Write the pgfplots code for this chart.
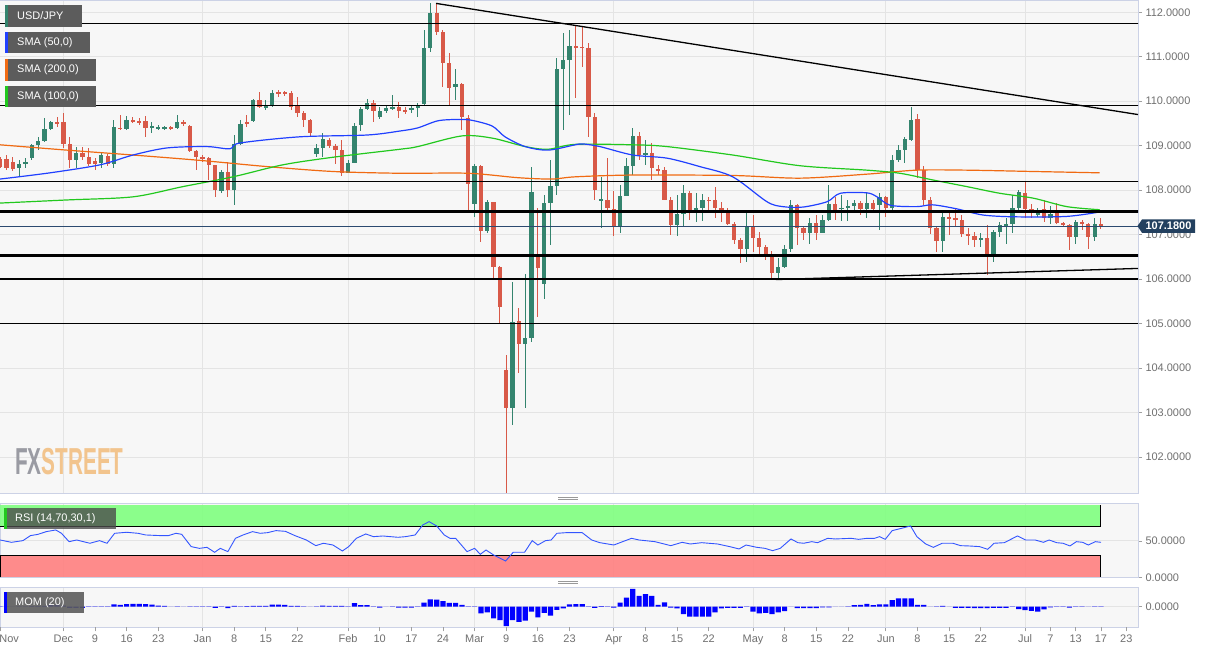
\documentclass[border=0pt]{standalone}
\usepackage{fontspec}
\setmainfont{Liberation Sans}
\usepackage{pgfplots}
\usepackage{pgfplotstable}
\pgfplotsset{compat=1.18}

\definecolor{panelbg}{HTML}{F7F7F7}
\definecolor{gridcol}{HTML}{E4E4E4}
\definecolor{bordercol}{HTML}{CCD2E6}
\definecolor{labelgray}{HTML}{707070}
\definecolor{tickgray}{HTML}{A0A0A0}
\definecolor{bull}{RGB}{52,132,110}
\definecolor{bear}{RGB}{216,89,72}
\definecolor{sma50}{HTML}{2040FF}
\definecolor{sma100}{HTML}{22C81E}
\definecolor{sma200}{HTML}{F06A12}
\definecolor{priceline}{HTML}{2C4A70}
\definecolor{tagnavy}{HTML}{23405F}
\definecolor{rsigreen}{HTML}{80FF80}
\definecolor{rsired}{HTML}{FF8080}
\definecolor{rsiblue}{HTML}{3355FF}
\definecolor{momblue}{HTML}{0000FF}
\definecolor{boxgray}{HTML}{5C5C5C}
\definecolor{fxgray}{HTML}{9A9BA3}
\definecolor{fxorange}{HTML}{F2C48D}

% daily candles, index 0 = 18 Nov 2019
\pgfplotstableread{
i o h l c
3 108.49 108.68 108.30 108.59
4 108.59 108.72 108.49 108.64
5 108.73 109.05 108.68 109.01
6 109.01 109.20 108.90 109.11
7 109.11 109.62 109.09 109.37
8 109.37 109.56 109.35 109.53
12 108.68 108.98 108.49 108.84
16 108.60 108.87 108.49 108.78
18 108.59 109.58 108.49 109.41
20 109.37 109.67 109.35 109.59
24 109.41 109.54 109.28 109.44
25 109.39 109.47 109.35 109.41
26 109.40 109.45 109.36 109.42
28 109.39 109.69 109.37 109.54
35 107.98 108.45 107.93 108.42
37 108.00 109.24 107.67 109.05
38 109.05 109.58 109.01 109.50
40 109.56 110.06 109.54 110.03
42 109.84 110.03 109.80 109.92
43 109.90 110.25 109.88 110.18
50 108.81 109.05 108.75 108.94
51 108.94 109.28 108.75 109.14
55 108.39 108.68 108.38 108.62
56 108.62 109.50 108.60 109.44
57 109.47 109.88 109.32 109.82
58 109.82 110.04 109.80 109.97
60 109.64 109.88 109.60 109.77
61 109.78 109.89 109.73 109.84
62 109.84 110.14 109.80 109.86
65 109.80 109.89 109.73 109.84
66 109.85 109.95 109.65 109.91
67 109.94 111.60 109.89 111.20
68 111.20 112.22 111.11 111.98
72 110.31 110.72 110.03 110.39
75 107.69 108.60 107.40 108.54
77 107.09 107.78 107.03 107.73
81 103.10 105.94 102.72 105.04
83 104.54 106.12 103.10 104.68
84 104.68 108.53 104.59 107.96
86 105.89 107.89 105.55 107.71
87 107.71 108.68 106.77 108.09
88 108.09 110.97 107.89 110.72
89 110.72 111.53 109.35 110.93
90 110.93 111.60 109.69 111.24
95 107.78 108.30 107.14 107.80
98 107.19 108.12 107.03 107.88
99 107.88 108.72 107.86 108.54
100 108.54 109.39 108.34 109.22
102 108.79 109.13 108.57 108.84
107 107.22 107.89 106.96 107.46
108 107.46 108.12 107.18 107.93
110 107.55 107.93 107.29 107.61
111 107.61 107.91 107.31 107.79
118 106.67 107.48 106.39 107.18
123 106.13 106.47 106.02 106.28
124 106.28 106.77 106.24 106.67
125 106.67 107.78 106.62 107.67
128 107.04 107.37 106.79 107.27
130 107.04 107.44 107.03 107.34
131 107.34 108.12 107.31 107.70
133 107.57 107.89 107.31 107.61
134 107.61 107.79 107.31 107.64
135 107.64 107.79 107.52 107.72
137 107.57 107.94 107.37 107.72
139 107.67 107.93 107.10 107.84
141 107.59 108.79 107.55 108.68
142 108.68 109.02 108.64 108.90
143 108.90 109.20 108.62 109.14
144 109.14 109.88 109.11 109.59
149 106.86 107.48 106.60 107.40
155 106.88 107.03 106.73 106.92
157 106.57 107.10 106.39 107.07
158 107.07 107.29 106.95 107.22
159 107.20 107.37 106.80 107.23
160 107.23 107.89 107.03 107.59
161 107.59 108.00 107.55 107.97
164 107.45 107.59 107.40 107.48
166 107.37 107.64 107.25 107.47
170 106.95 107.33 106.80 107.29
173 106.95 107.37 106.86 107.25
}\bulltab

\pgfplotstableread{
i o h l c
0 108.70 108.75 108.49 108.53
1 108.70 108.79 108.45 108.49
2 108.64 108.75 108.44 108.47
9 109.53 109.65 109.43 109.50
10 109.53 109.73 108.94 109.04
11 109.04 109.20 108.49 108.68
13 108.84 108.98 108.68 108.75
14 108.74 108.94 108.54 108.60
15 108.66 108.72 108.45 108.60
17 108.78 108.82 108.54 108.59
19 109.41 109.69 109.35 109.37
21 109.59 109.65 109.50 109.54
22 109.56 109.62 109.47 109.53
23 109.56 109.67 109.20 109.39
27 109.41 109.45 109.36 109.38
29 109.54 109.58 109.44 109.48
30 109.44 109.46 108.87 108.89
31 108.89 108.90 108.45 108.75
32 108.75 108.79 108.64 108.72
33 108.72 108.75 108.23 108.56
34 108.56 108.57 107.85 108.00
36 108.42 108.64 107.85 108.00
39 109.53 109.69 109.43 109.50
41 110.03 110.21 109.84 109.88
44 110.20 110.25 110.10 110.17
45 110.20 110.22 110.12 110.18
46 110.18 110.22 109.80 109.87
47 109.89 110.10 109.65 109.74
48 109.74 109.77 109.43 109.58
49 109.58 109.59 109.20 109.29
52 109.14 109.17 108.94 108.99
53 108.99 109.05 108.60 108.90
54 108.90 109.13 108.32 108.38
59 109.97 110.03 109.54 109.77
63 109.86 109.99 109.62 109.78
64 109.79 109.88 109.71 109.77
69 111.98 112.19 111.49 111.56
70 111.55 111.60 110.33 110.87
71 110.87 111.08 109.92 110.30
73 110.39 110.42 109.35 109.64
74 109.62 109.69 107.55 108.15
76 108.54 108.57 106.84 107.09
78 107.73 107.74 105.98 106.28
79 106.28 106.30 105.01 105.38
80 103.96 104.30 101.19 103.10
82 105.06 105.35 103.88 104.54
85 106.55 107.59 105.15 106.24
91 111.24 111.71 110.07 111.21
92 111.22 111.68 110.78 111.20
93 111.20 111.30 109.20 109.64
94 109.64 109.73 107.78 108.00
96 107.79 108.72 107.52 107.59
97 107.57 107.97 106.96 107.19
101 109.22 109.30 108.68 108.79
103 108.83 109.07 108.23 108.49
104 108.48 108.57 108.34 108.44
105 108.45 108.53 107.78 107.79
106 107.79 107.85 106.99 107.22
109 107.93 107.97 107.32 107.48
112 107.79 107.85 107.48 107.76
113 107.78 108.06 107.37 107.61
114 107.61 107.74 107.29 107.52
115 107.52 107.59 107.22 107.24
116 107.24 107.29 106.80 106.88
117 106.88 106.92 106.37 106.67
119 107.18 107.44 106.62 106.92
120 106.92 107.07 106.54 106.73
121 106.73 106.77 106.43 106.57
122 106.57 106.64 106.02 106.13
126 107.67 107.70 106.77 107.14
127 107.14 107.19 106.88 107.04
129 107.27 107.44 106.88 107.04
132 107.70 107.85 107.33 107.52
136 107.71 107.75 107.45 107.57
138 107.72 107.78 107.48 107.57
140 107.84 107.87 107.40 107.59
145 109.59 109.71 108.27 108.45
146 108.45 108.54 107.67 107.79
147 107.79 107.85 107.01 107.14
148 107.14 107.18 106.60 106.86
150 107.40 107.55 106.99 107.37
151 107.37 107.59 107.18 107.33
152 107.33 107.44 106.95 107.02
153 107.01 107.14 106.77 106.97
154 106.97 107.07 106.73 106.88
156 106.92 107.22 106.09 106.57
162 107.93 108.19 107.37 107.57
163 107.57 107.70 107.37 107.48
165 107.57 107.78 107.29 107.37
167 107.48 107.72 107.24 107.27
168 107.27 107.29 107.19 107.22
169 107.22 107.25 106.66 106.95
171 107.29 107.33 107.10 107.25
172 107.24 107.27 106.67 106.95
174 107.25 107.37 107.12 107.19
}\beartab

\pgfplotsset{
  panel/.style={
    anchor=south west, scale only axis, width=1138bp,
    xmin=-0.016, xmax=179.85,
    axis background/.style={fill=panelbg},
    axis line style={draw=bordercol, line width=1bp},
    xtick={10,32,55,75,97,119,140,162},
    grid=major, major grid style={draw=gridcol, line width=0.9bp},
    ytick pos=right, yticklabel pos=right,
    tick align=outside, major tick length=4bp,
    ytick style={draw=tickgray, line width=0.8bp},
    tick label style={font=\fontsize{11}{13}\selectfont, text=labelgray},
    /pgf/number format/fixed, /pgf/number format/fixed zerofill,
    /pgf/number format/precision=4, /pgf/number format/assume math mode=true,
  },
  wick/.style={draw=none, mark=none, forget plot,
    error bars/.cd, y dir=both, y explicit, error mark=none,
    error bar style={line width=1bp, draw=#1}},
  body/.style={draw=none, mark=none, forget plot,
    error bars/.cd, y dir=both, y explicit, error mark=none,
    error bar style={line width=4.3bp, draw=#1}},
}

\begin{document}
\begin{tikzpicture}[x=1bp,y=1bp]
\fill[white] (0,0) rectangle (1214,653);

% price panel
\begin{axis}[panel, at={(0bp,159bp)}, height=493bp,
  ymin=101.168, ymax=112.254,
  ytick={102,103,104,105,106,107,108,109,110,111,112},
  xticklabels={}, xtick style={draw=none}]
\addplot[wick=bull] table[x=i, y expr={(\thisrow{h}+\thisrow{l})/2}, y error expr={(\thisrow{h}-\thisrow{l})/2}] {\bulltab};
\addplot[wick=bear] table[x=i, y expr={(\thisrow{h}+\thisrow{l})/2}, y error expr={(\thisrow{h}-\thisrow{l})/2}] {\beartab};
\addplot[body=bull] table[x=i, y expr={(\thisrow{o}+\thisrow{c})/2}, y error expr={max(abs(\thisrow{c}-\thisrow{o})/2,0.016)}] {\bulltab};
\addplot[body=bear] table[x=i, y expr={(\thisrow{o}+\thisrow{c})/2}, y error expr={max(abs(\thisrow{c}-\thisrow{o})/2,0.016)}] {\beartab};

% SMA 200
\addplot[sma200, line width=1.2bp, smooth] coordinates {
(0,109.02) (10.6,108.90) (21,108.79) (31.6,108.67) (42.2,108.53) (52.6,108.42)
(63.2,108.38) (74,108.38) (81.9,108.28) (87.2,108.25) (90.9,108.30) (100,108.34)
(115.8,108.33) (126.4,108.27) (137,108.36) (144.9,108.45) (152.8,108.45)
(163.3,108.42) (173.8,108.39)};
% SMA 100
\addplot[sma100, line width=1.2bp, smooth] coordinates {
(0,107.71) (10.6,107.78) (21,107.85) (28.9,108.08) (36.8,108.30) (44.7,108.57)
(52.6,108.74) (63.2,108.92) (66,108.98) (73,109.22) (77.8,109.17) (83,108.98)
(86.6,108.92) (90.9,109.03) (100,109.02) (105.4,108.98) (115.8,108.79)
(126.4,108.55) (137,108.45) (142.2,108.38) (147.4,108.23) (152.8,108.08)
(158,107.93) (163.3,107.82) (168.6,107.63) (173.8,107.56)};
% SMA 50
\addplot[sma50, line width=1.2bp, smooth] coordinates {
(0,108.25) (7.9,108.39) (15.8,108.57) (21,108.79) (26.4,108.95) (32.7,108.98)
(36.3,108.93) (37.9,109.06) (47.4,109.20) (58,109.24) (63.2,109.33) (66,109.40)
(69.2,109.56) (72.4,109.59) (74.6,109.57) (77.8,109.44) (79.8,109.20) (83,108.98)
(86.6,108.90) (90.9,109.02) (92.1,109.04) (94.8,108.98) (100,108.79)
(105.4,108.72) (110.6,108.53) (115.8,108.30) (121.2,107.74) (123.7,107.63)
(126.9,107.62) (130.7,107.74) (132.8,107.93) (137,107.94) (138.6,107.85)
(140.7,107.66) (144.9,107.63) (147.4,107.67) (151.2,107.58) (155.4,107.44)
(160.7,107.40) (168.6,107.41) (173.8,107.51)};

% support and resistance levels
\addplot[black, line width=1.3bp] coordinates {(-1,111.75) (181,111.75)};
\addplot[black, line width=1.3bp] coordinates {(-1,109.91) (181,109.91)};
\addplot[black, line width=1.3bp] coordinates {(-1,108.19) (181,108.19)};
\addplot[black, line width=3bp] coordinates {(-1,107.53) (181,107.53)};
\addplot[priceline, line width=1bp] coordinates {(-1,107.18) (181,107.18)};
\addplot[black, line width=3bp] coordinates {(-1,106.54) (181,106.54)};
\addplot[black, line width=1.3bp] coordinates {(-1,106.00) (181,106.00)};
\addplot[black, line width=1.3bp] coordinates {(-1,105.00) (181,105.00)};
% trend lines
\addplot[black, line width=1.3bp] coordinates {(68.9,112.20) (179.85,109.70)};
\addplot[black, line width=1.3bp] coordinates {(122.6,105.99) (179.85,106.24)};
\end{axis}

% RSI panel
\begin{axis}[panel, at={(0bp,75.7bp)}, height=73.3bp,
  ymin=0, ymax=100.8, ytick={0,50},
  xticklabels={}, xtick style={draw=none}]
\fill[rsigreen, fill opacity=0.9] (axis cs:-0.016,70) rectangle (axis cs:173.9,98.8);
\draw[black, line width=0.8bp] (axis cs:-0.016,70) -- (axis cs:173.9,70) -- (axis cs:173.9,98.8);
\fill[rsired, fill opacity=0.9] (axis cs:0.1,0) rectangle (axis cs:173.9,30);
\draw[black, line width=0.8bp] (axis cs:0.1,0) -- (axis cs:0.1,30) -- (axis cs:173.9,30) -- (axis cs:173.9,0);
\addplot[rsiblue, line width=0.9bp] coordinates {
(0,51.3) (1.8,48.1) (3.6,50.4) (4.8,57.3) (6.0,59.1) (7.3,62.8) (8.8,65.1)
(9.7,60.5) (10.9,49.0) (12.1,51.3) (14.2,46.8) (15.7,50.4) (16.9,46.8)
(18.1,60.5) (20.0,61.9) (21.8,60.5) (23.0,58.2) (25.4,57.3) (26.6,57.3)
(27.8,60.5) (28.7,59.1) (30.2,42.2) (31.5,39.8) (32.7,41.2) (33.9,34.4)
(34.8,39.8) (36.0,35.3) (37.2,53.6) (38.4,58.2) (39.9,62.8) (41.1,60.5)
(42.3,61.4) (43.6,64.2) (45.1,63.2) (46.6,57.3) (48.4,51.3) (49.9,43.5)
(51.1,46.8) (52.6,44.4) (54.1,36.2) (55.1,42.2) (56.3,53.6) (57.8,59.6)
(59.0,55.9) (60.5,56.8) (62.9,55.0) (64.1,55.9) (65.6,58.2) (66.8,71.9)
(67.8,76.5) (69.0,70.6) (70.2,58.2) (71.1,53.6) (72.0,53.6) (73.8,35.3)
(75.0,39.8) (75.9,31.6) (76.8,37.5) (78.0,30.7) (79.9,22.4) (81.1,34.4)
(82.9,34.4) (84.1,50.4) (85.0,44.4) (86.2,50.4) (87.1,51.3) (88.0,60.5)
(89.5,61.4) (92.0,61.4) (93.5,51.3) (94.8,47.6) (97.0,44.4) (99.8,53.6)
(101.0,51.3) (103.5,49.0) (106.0,43.5) (107.8,48.1) (109.1,45.8) (110.9,47.6)
(113.4,45.8) (115.3,42.2) (116.8,39.0) (117.9,44.4) (119.6,41.2) (120.9,39.8)
(122.1,36.6) (123.3,39.8) (125.0,52.7) (126.1,47.6) (127.0,46.8) (128.3,49.0)
(129.2,47.6) (130.8,53.6) (132.0,52.7) (134.5,53.6) (135.7,52.2) (137.0,53.6)
(138.2,53.6) (139.0,55.9) (139.9,52.2) (141.0,64.2) (142.5,67.4) (143.9,70.6)
(144.9,55.9) (146.3,45.8) (147.5,41.2) (148.9,46.8) (150.6,46.8) (151.8,43.5)
(153.1,43.1) (154.8,42.2) (156.1,38.5) (157.1,46.8) (158.7,47.6) (160.8,56.8)
(162.1,51.3) (163.6,51.3) (164.9,48.1) (165.8,51.3) (167.0,47.6) (168.0,46.8)
(169.1,43.1) (170.1,49.0) (171.1,48.1) (172.0,44.4) (173.1,49.0) (174.0,48.1)};
\end{axis}

% MOM panel
\begin{axis}[panel, at={(0bp,25.7bp)}, height=39.6bp,
  ymin=-7.1, ymax=6.55, ytick={0},
  xtick pos=left, xtick style={draw=tickgray, line width=0.8bp},
  xticklabels={Dec,Jan,Feb,Mar,Apr,May,Jun,Jul},
  extra x ticks={0,15,20,25,37,42,47,60,65,70,80,85,90,102,107,112,124,129,134,145,150,155,166,170,174,178},
  extra x tick labels={\hspace*{18bp}Nov,9,16,23,8,15,22,10,17,24,9,16,23,8,15,22,8,15,22,8,15,22,7,13,17,23},
  extra x tick style={grid=none},
  ybar, bar width=5.2bp]
\addplot[fill=momblue, draw=none] coordinates {
(0,0.1) (1,0.1) (2,0.05) (3,0.1) (4,0.15) (5,0.2) (6,0.2) (7,0.3) (8,0.5) (9,0.5)
(10,0.4) (11,-0.4) (12,-0.4) (13,-0.4) (14,-0.1) (15,-0.1) (16,-0.1) (17,-0.1)
(18,0.8) (19,0.6) (20,0.9) (21,1.0) (22,1.0) (23,0.9) (24,0.7) (25,0.4) (26,0.3)
(27,0.05) (28,-0.05) (29,0.05) (30,-0.1) (31,-0.1) (32,-0.1) (33,-0.05) (34,-0.4)
(35,-0.1) (36,-0.5) (37,0.3) (38,0.1) (39,0.2) (40,0.3) (41,0.3) (42,0.3)
(43,0.7) (44,0.7) (45,0.6) (46,0.3) (47,0.3) (48,0.1) (49,0.05) (50,0.1)
(51,0.4) (52,0.3) (53,0.3) (54,0.3) (55,0.1) (56,1.2) (57,0.5) (58,0.5)
(59,-0.1) (60,-0.3) (61,0.02) (62,-0.05) (63,-0.3) (64,-0.3) (65,-0.3) (66,0.1)
(67,1.4) (68,2.5) (69,2.4) (70,1.9) (71,1.3) (72,1.3) (73,0.6) (74,-0.05)
(75,-0.1) (76,-2.3) (77,-2.0) (78,-4.0) (79,-4.6) (80,-6.7) (81,-4.6) (82,-5.2)
(83,-4.8) (84,-1.7) (85,-3.7) (86,-2.1) (87,-3.1) (88,-1.1) (89,-0.6) (90,0.8)
(91,0.9) (92,0.9) (93,0.1) (94,-0.4) (95,0.2) (96,0.1) (97,-0.3) (98,1.4)
(99,3.1) (100,6.1) (101,3.7) (102,4.3) (103,3.7) (104,0.6) (105,1.5) (106,-0.3)
(107,-0.6) (108,-2.6) (109,-3.4) (110,-3.4) (111,-3.4) (112,-3.4) (113,-2.0)
(114,-0.6) (115,-0.4) (116,-0.4) (117,-0.4) (118,-0.1) (119,-1.7) (120,-2.3)
(121,-2.1) (122,-2.6) (123,-2.0) (124,-1.5) (125,0.05) (126,-0.5) (127,-0.5)
(128,-0.5) (129,-0.5) (130,-0.2) (131,-0.2) (132,0.05) (133,0.05) (134,0.1)
(135,0.5) (136,0.6) (137,1.0) (138,0.5) (139,0.8) (140,0.8) (141,2.3) (142,2.9)
(143,2.9) (144,2.9) (145,0.6) (146,0.6) (147,0.05) (148,-0.1) (149,0.3)
(150,0.05) (151,-0.4) (152,-0.4) (153,-0.4) (154,-0.5) (155,-0.5) (156,-0.5)
(157,-0.4) (158,-0.4) (159,-0.4) (160,-0.05) (161,-0.8) (162,-1.15) (163,-1.4)
(164,-1.7) (165,-0.9) (166,-0.2) (167,0.1) (168,0.1) (169,-0.3) (170,0.1)
(171,0.1) (172,0.05) (173,0.1) (174,0.1)};
\end{axis}

% current price tag
\fill[tagnavy] (1137.5,426.9) -- (1142,433.6) -- (1195,433.6) -- (1195,420.2) -- (1142,420.2) -- cycle;
\node[text=white, font=\bfseries\fontsize{11}{13}\selectfont, inner sep=0] at (1168.5,426.9) {107.1800};

% legend boxes
\begin{scope}[font=\fontsize{11}{13}\selectfont]
\fill[boxgray] (5,626) rectangle (82,648);
\fill[bull] (5,626) rectangle (7.5,648);
\node[anchor=west, text=white, inner sep=0] at (17,637) {USD/JPY};
\fill[boxgray] (5,600) rectangle (90,621);
\fill[sma50] (5,600) rectangle (7.5,621);
\node[anchor=west, text=white, inner sep=0] at (17,610.5) {SMA (50,0)};
\fill[boxgray] (5,572) rectangle (96,594);
\fill[sma200] (5,572) rectangle (7.5,594);
\node[anchor=west, text=white, inner sep=0] at (17,583) {SMA (200,0)};
\fill[boxgray] (5,546) rectangle (96,567);
\fill[sma100] (5,546) rectangle (7.5,567);
\node[anchor=west, text=white, inner sep=0] at (17,556.5) {SMA (100,0)};
\fill[black!70, fill opacity=0.8] (4,124) rectangle (116,145);
\fill[sma100] (4,124) rectangle (7,145);
\node[anchor=west, text=white, inner sep=0] at (15,134.5) {RSI (14,70,30,1)};
\fill[boxgray, fill opacity=0.9] (4,40) rectangle (84,61);
\fill[momblue] (4,40) rectangle (7,61);
\node[anchor=west, text=white, inner sep=0] at (15,50.5) {MOM (20)};
\end{scope}

% watermark
\node[anchor=south west, inner sep=0, xscale=0.553, font=\bfseries\fontsize{37.7}{40}\selectfont] at (15,178) {\textcolor{fxgray}{FX}\textcolor{fxorange}{STREET}};

% panel drag handles
\draw[gray!80, line width=0.8bp] (558,155.8) -- (578,155.8) (558,153.6) -- (578,153.6);
\draw[gray!80, line width=0.8bp] (558,71.7) -- (578,71.7) (558,69.5) -- (578,69.5);

\pgfresetboundingbox
\path[use as bounding box] (0,0) rectangle (1214,653);
\end{tikzpicture}
\end{document}
